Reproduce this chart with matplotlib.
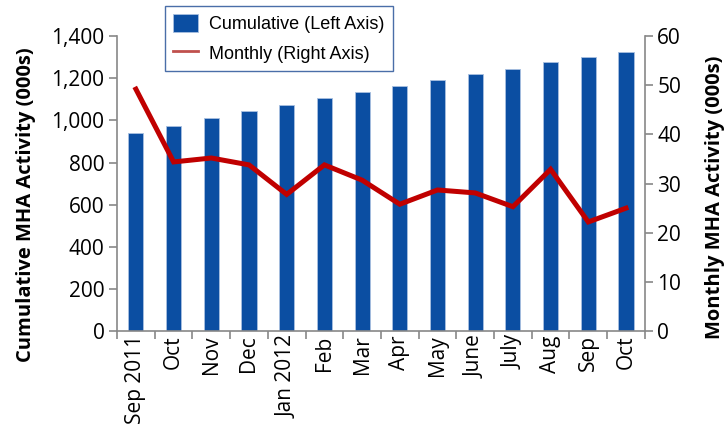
import numpy as np
import matplotlib.pyplot as plt
from matplotlib.ticker import FuncFormatter, FixedLocator

months = ['Sep 2011', 'Oct', 'Nov', 'Dec', 'Jan 2012', 'Feb', 'Mar', 'Apr',
          'May', 'June', 'July', 'Aug', 'Sep', 'Oct']
cumulative = [941, 974, 1009, 1043, 1073, 1104, 1136, 1163,
              1191, 1220, 1245, 1278, 1300, 1324]
monthly = [49.2, 34.4, 35.2, 33.8, 27.8, 33.8, 30.7, 25.8,
           28.7, 28.1, 25.3, 32.9, 22.2, 25.0]

tick_font = 'Open Sans'
gray = '#888888'

fig = plt.figure(figsize=(7.27, 4.34), dpi=100)
ax = fig.add_axes([0.161, 0.237, 0.726, 0.680])
ax2 = ax.twinx()

x = np.arange(len(months))
bars = ax.bar(x, cumulative, width=0.40, color='#0b4ea2', edgecolor='#a8c0e0',
              linewidth=0.6, label='Cumulative (Left Axis)', zorder=2)
line, = ax2.plot(x, monthly, color='#c00000', lw=3.6, solid_joinstyle='miter',
                 label='Monthly (Right Axis)', zorder=3)

ax.set_xlim(-0.5, len(months) - 0.5)
ax.set_ylim(0, 1400)
ax2.set_ylim(0, 60)
ax.set_yticks(np.arange(0, 1401, 200))
ax2.set_yticks(np.arange(0, 61, 10))
ax.yaxis.set_major_formatter(FuncFormatter(lambda v, p: '{:,.0f}'.format(v)))

# category ticks on boundaries, labels centred on bars
ax.xaxis.set_major_locator(FixedLocator(np.arange(-0.5, len(months), 1.0)))
ax.xaxis.set_minor_locator(FixedLocator(x))
ax.set_xticklabels([])
ax.set_xticklabels(months, minor=True, rotation=90, fontsize=15,
                   family=tick_font)
ax.tick_params(axis='x', which='minor', length=0, pad=3)
ax.tick_params(axis='x', which='major', length=6, color=gray, width=1.2)

for a in (ax, ax2):
    for s in a.spines.values():
        s.set_visible(False)
ax.spines['left'].set_visible(True)
ax.spines['bottom'].set_visible(True)
ax2.spines['right'].set_visible(True)
for s in (ax.spines['left'], ax.spines['bottom'], ax2.spines['right']):
    s.set_color(gray)
    s.set_linewidth(1.2)

ax.tick_params(axis='y', length=6, color=gray, width=1.2, labelsize=15, pad=3)
ax2.tick_params(axis='y', length=6, color=gray, width=1.2, labelsize=15, pad=3)
for lab in ax.get_yticklabels() + ax2.get_yticklabels():
    lab.set_family(tick_font)

ax.set_ylabel('Cumulative MHA Activity (000s)', fontsize=14.5,
              fontweight='bold', family=tick_font)
ax2.set_ylabel('Monthly MHA Activity (000s)', fontsize=14.5,
               fontweight='bold', family=tick_font)
# label positions (pixels -> axes fraction)
ax.yaxis.set_label_coords(-0.153, 0.43)
ax2.yaxis.set_label_coords(1.114, 0.455)

leg = fig.legend(handles=[bars, line], loc='upper left',
                 bbox_to_anchor=(0.227, 0.986),
                 prop={'family': 'Liberation Sans', 'size': 13},
                 fancybox=False, framealpha=1, edgecolor='#4a6ea8',
                 borderpad=0.45, labelspacing=0.6, handlelength=1.4,
                 handleheight=1.1, handletextpad=0.6, borderaxespad=0)
leg.get_frame().set_linewidth(1.0)
leg.legend_handles[1].set_linewidth(2)
leg.legend_handles[1].set_color('#c0504d')

fig.savefig('out.png', dpi=100)
